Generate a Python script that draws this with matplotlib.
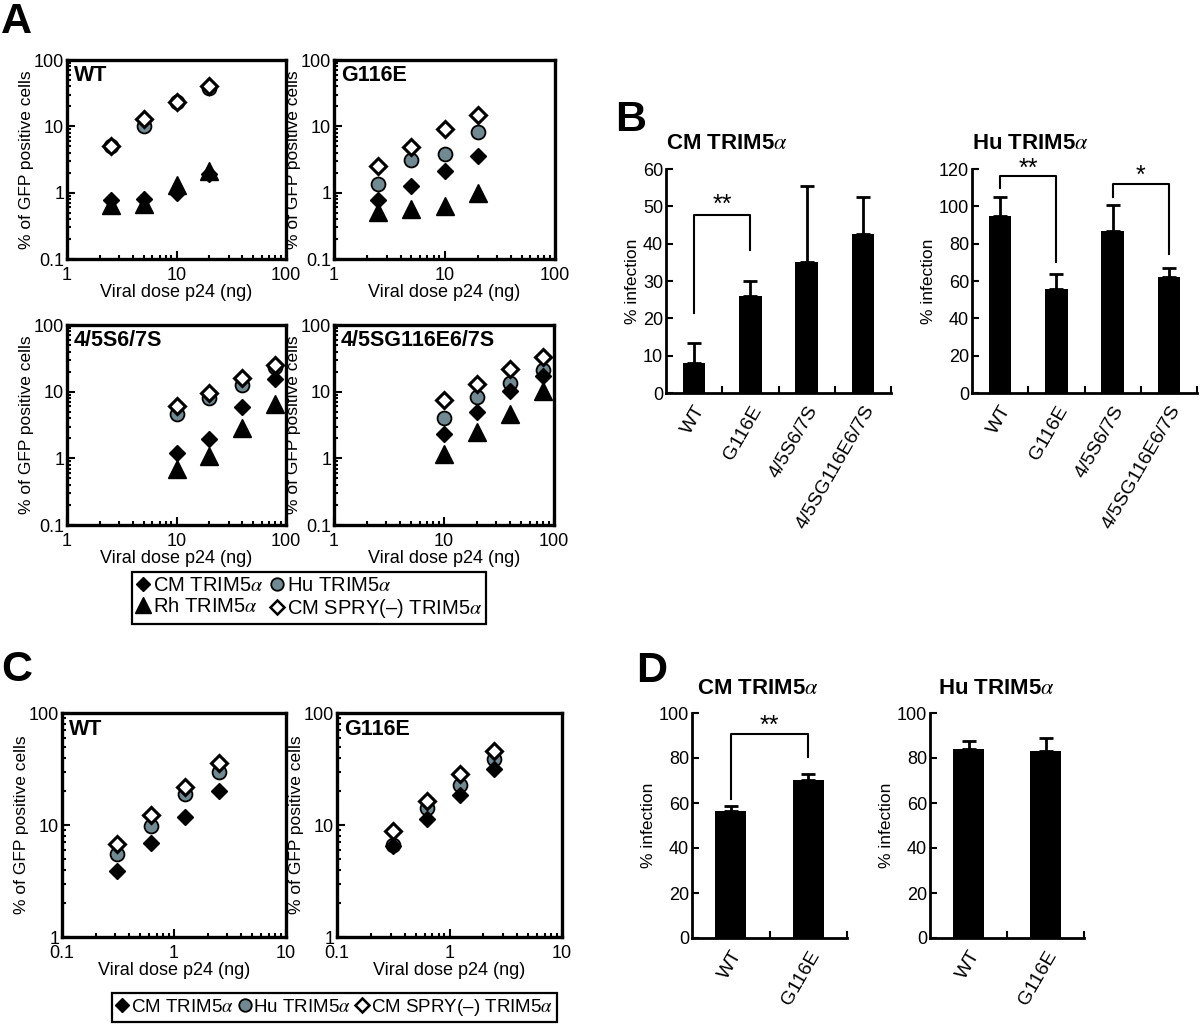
import matplotlib
matplotlib.use("Agg")
import matplotlib.pyplot as plt
from matplotlib.lines import Line2D
from matplotlib.ticker import NullFormatter, LogLocator

plt.rcParams['font.family'] = ['Liberation Sans', 'DejaVu Sans']
plt.rcParams['mathtext.fontset'] = 'stix'

W, H = 1200, 1026

# ---- panel A data (% of GFP positive cells) ----
a_dose_wt = [2.5, 5, 10, 20]
a_dose_s = [10, 20, 40, 80]
a_titles = ['WT', 'G116E', '4/5S6/7S', '4/5SG116E6/7S']
a_cm = [[0.78, 0.8, 1.0, 1.92],
        [0.77, 1.25, 2.1, 3.63],
        [1.22, 1.95, 5.8, 15.3],
        [2.3, 4.9, 10.4, 17.4]]
a_hu = [[5.0, 10.0, 23.0, 37.4],
        [1.37, 3.13, 3.85, 8.1],
        [4.57, 7.94, 12.6, 23.7],
        [4.07, 8.2, 13.6, 21.1]]
a_rh = [[0.65, 0.68, 1.3, 2.1],
        [0.51, 0.57, 0.63, 0.99],
        [0.69, 1.08, 2.9, 6.5],
        [1.16, 2.5, 4.6, 10.4]]
a_spry = [[5.1, 12.8, 23.6, 41.0],
          [2.55, 4.95, 9.0, 14.6],
          [6.1, 9.66, 15.8, 25.1],
          [7.5, 13.0, 22.1, 33.5]]

# ---- panel B data (% infection) ----
b_cats = ['WT', 'G116E', '4/5S6/7S', '4/5SG116E6/7S']
b_cm_mean = [8, 26, 35, 42.5]
b_cm_err = [5.5, 4, 20.5, 10]
b_hu_mean = [95, 55.5, 87, 62]
b_hu_err = [10, 8.3, 13.7, 5.2]

# ---- panel C data ----
c_dose = [0.3125, 0.625, 1.25, 2.5]
c_titles = ['WT', 'G116E']
c_cm = [[3.92, 6.87, 11.9, 20.1],
        [6.5, 11.2, 18.5, 31.9]]
c_hu = [[5.52, 9.87, 18.8, 29.8],
        [6.64, 14.1, 22.7, 38.7]]
c_spry = [[6.78, 12.4, 21.9, 36.1],
          [8.9, 16.5, 28.4, 45.9]]

# ---- panel D data ----
d_cats = ['WT', 'G116E']
d_cm_mean = [56.4, 70.1]
d_cm_err = [2.3, 2.9]
d_hu_mean = [84.1, 83.0]
d_hu_err = [3.6, 6.0]

HU_COLOR = '#718a92'
sty_cm = dict(marker='D', color='black', ms=8.5, ls='none', zorder=4)
sty_hu = dict(marker='o', mfc=HU_COLOR, mec='black', mew=1.3, ms=10, ls='none', zorder=3)
sty_rh = dict(marker='^', color='black', ms=12.5, ls='none', zorder=5)
sty_spry = dict(marker='D', mfc='white', mec='black', mew=2.2, ms=8.3, ls='none', zorder=6)

fig = plt.figure(figsize=(W / 100, H / 100), dpi=100)


def rect(l, t, r, b):
    return [l / W, 1 - b / H, (r - l) / W, (b - t) / H]


def ftext(x, y, s, **kw):
    fig.text(x / W, 1 - y / H, s, **kw)


def scatter_ax(r, title, xlim, ylim, xt, yt):
    ax = fig.add_axes(rect(*r))
    ax.set_xscale('log')
    ax.set_yscale('log')
    ax.set_xlim(*xlim)
    ax.set_ylim(*ylim)
    ax.set_xticks(xt, labels=[f'{v:g}' for v in xt])
    ax.set_yticks(yt, labels=[f'{v:g}' for v in yt])
    ax.xaxis.set_minor_locator(LogLocator(subs=range(2, 10)))
    ax.yaxis.set_minor_locator(LogLocator(subs=range(2, 10)))
    ax.xaxis.set_minor_formatter(NullFormatter())
    ax.yaxis.set_minor_formatter(NullFormatter())
    ax.tick_params(which='both', direction='in', top=False, right=False,
                   width=1.5, labelsize=13)
    ax.tick_params(axis='x', pad=6)
    ax.tick_params(axis='y', pad=2)
    ax.tick_params(which='major', length=6)
    ax.tick_params(which='minor', length=3)
    for s in ax.spines.values():
        s.set_linewidth(2.4)
    ax.set_xlabel('Viral dose p24 (ng)', fontsize=13, labelpad=0)
    ax.set_ylabel('% of GFP positive cells', fontsize=12.5, labelpad=0)
    ax.text(0.03, 0.975, title, transform=ax.transAxes, va='top', ha='left',
            fontsize=15.5, fontweight='bold')
    return ax


# panel A
a_rects = [(67, 60, 286, 259), (334, 60, 555, 259),
           (67, 325, 286, 525), (334, 325, 554, 525)]
for i, r in enumerate(a_rects):
    ax = scatter_ax(r, a_titles[i], (1, 100), (0.1, 100), [1, 10, 100], [0.1, 1, 10, 100])
    x = a_dose_wt if i < 2 else a_dose_s
    ax.plot(x, a_hu[i], **sty_hu)
    ax.plot(x, a_cm[i], **sty_cm)
    ax.plot(x, a_rh[i], **sty_rh)
    ax.plot(x, a_spry[i], **sty_spry)

# panel C
c_rects = [(62, 713, 286, 937), (337, 713, 562, 937)]
for i, r in enumerate(c_rects):
    ax = scatter_ax(r, c_titles[i], (0.1, 10), (1, 100), [0.1, 1, 10], [1, 10, 100])
    ax.plot(c_dose, c_hu[i], **sty_hu)
    ax.plot(c_dose, c_cm[i], **sty_cm)
    ax.plot(c_dose, c_spry[i], **sty_spry)

h_cm = Line2D([], [], **{**sty_cm, 'ms': 7.5})
h_hu = Line2D([], [], **{**sty_hu, 'ms': 9})
h_rh = Line2D([], [], **{**sty_rh, 'ms': 11})
h_spry = Line2D([], [], **{**sty_spry, 'ms': 7, 'mew': 1.8})
lab_cm = r'CM TRIM5$\alpha$'
lab_hu = r'Hu TRIM5$\alpha$'
lab_rh = r'Rh TRIM5$\alpha$'
lab_spry = r'CM SPRY(–) TRIM5$\alpha$'

leg_kw = dict(loc='upper left', frameon=True, fancybox=False,
              edgecolor='black', framealpha=1, handlelength=0.7,
              borderaxespad=0, borderpad=0.2, labelspacing=0.1)
legA = fig.legend([h_cm, h_rh, h_hu, h_spry], [lab_cm, lab_rh, lab_hu, lab_spry],
                  ncol=2, columnspacing=0.3, fontsize=14.5, handletextpad=0.15,
                  bbox_to_anchor=(132 / W, 1 - 572 / H), **leg_kw)
legA.get_frame().set_linewidth(1.6)
legC = fig.legend([h_cm, h_hu, h_spry], [lab_cm, lab_hu, lab_spry],
                  ncol=3, columnspacing=0.25, fontsize=13.5, handletextpad=0.1,
                  bbox_to_anchor=(112 / W, 1 - 993 / H), **leg_kw)
legC.get_frame().set_linewidth(1.6)


def bar_ax(r, cats, mean, err, ymax, ystep, title, tx, ty):
    ax = fig.add_axes(rect(*r))
    xs = list(range(len(cats)))
    ax.bar(xs, mean, width=0.4, color='black', zorder=2)
    ax.errorbar(xs, mean, yerr=[[0] * len(err), err], fmt='none', ecolor='black',
                elinewidth=2, capsize=5, capthick=2, zorder=1)
    ax.set_xlim(-0.5, len(cats) - 0.5)
    ax.set_ylim(0, ymax)
    ax.set_yticks(range(0, ymax + 1, ystep))
    ax.set_xticks(xs)
    ax.set_xticklabels(cats, rotation=60, ha='right', rotation_mode='anchor', fontsize=14)
    ax.set_xticks([x + 0.5 for x in xs], minor=True)
    ax.tick_params(axis='x', which='major', length=0, pad=7)
    ax.tick_params(axis='x', which='minor', direction='in', length=5, width=1.5)
    ax.tick_params(axis='y', direction='in', length=5, width=1.5, labelsize=13, pad=2)
    for s in ['top', 'right']:
        ax.spines[s].set_visible(False)
    for s in ['left', 'bottom']:
        ax.spines[s].set_linewidth(2)
    ax.set_ylabel('% infection', fontsize=12.5, labelpad=2)
    ax.text(tx, ty, title, transform=ax.transAxes, ha='left', va='bottom',
            fontsize=16, fontweight='bold')
    return ax


def bracket(ax, x1, x2, ytop, y1, y2, star, ystar):
    ax.plot([x1, x1, x2, x2], [y1, ytop, ytop, y2], color='black', lw=1.5,
            clip_on=False, zorder=3)
    ax.text((x1 + x2) / 2, ystar, star, ha='center', va='center', fontsize=18,
            clip_on=False)


# panel B
axb1 = bar_ax((666, 169, 891, 393), b_cats, b_cm_mean, b_cm_err, 60, 10,
              r'CM TRIM5$\alpha$', 0.0, 1.065)
bracket(axb1, 0, 1, 47.6, 21.4, 38.4, '**', 50.3)
axb2 = bar_ax((972, 169, 1197, 393), b_cats, b_hu_mean, b_hu_err, 120, 20,
              r'Hu TRIM5$\alpha$', 0.0, 1.065)
bracket(axb2, 0, 1, 116, 109.8, 70, '**', 120.3)
bracket(axb2, 2, 3, 112, 105, 74.3, '*', 116.2)

# panel D
axd1 = bar_ax((692, 713, 847, 938), d_cats, d_cm_mean, d_cm_err, 100, 20,
              r'CM TRIM5$\alpha$', 0.03, 1.06)
bracket(axd1, 0, 1, 90.5, 62, 80.4, '**', 94.3)
axd2 = bar_ax((930, 713, 1084, 938), d_cats, d_hu_mean, d_hu_err, 100, 20,
              r'Hu TRIM5$\alpha$', 0.05, 1.06)

# panel letters
for s, x, y in [('A', 1, 2), ('B', 615, 100), ('C', 1, 650), ('D', 636, 651)]:
    ftext(x, y, s, fontsize=31, fontweight='bold', va='top', ha='left')

fig.savefig('out.png', dpi=100)
